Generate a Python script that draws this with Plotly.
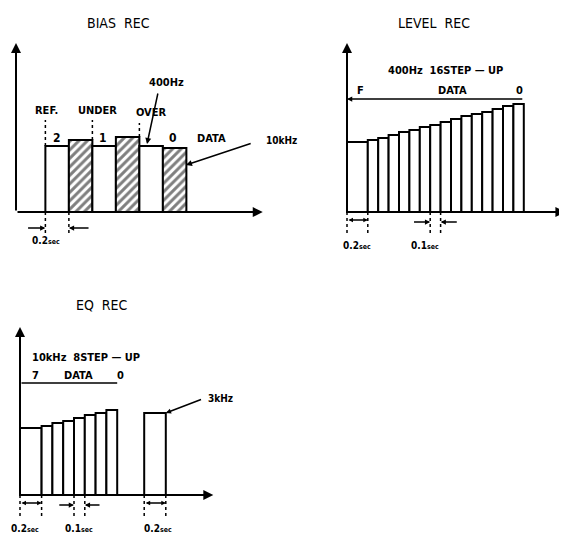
import numpy as np
import plotly.graph_objects as go

W, H = 567, 537
OFF = 8  # page body margin
FW, FH = W - OFF, H - OFF

# BIAS REC : REF / UNDER / OVER, 400Hz (white) + 10kHz (hatched)
bias_left = [0.25, 0.45, 0.65, 0.85, 1.05, 1.25]
bias_width = [0.2, 0.2, 0.2, 0.2, 0.2, 0.2]
bias_level = [66, 72, 66, 75, 66, 64]
bias_hatch = ["", "/", "", "/", "", "/"]

# LEVEL REC : 400Hz 16 step-up
level_width = [0.2] + [0.1] * 15
level_level = [70, 72, 74, 77, 80, 82, 85, 87, 90, 93, 96, 98, 100, 103, 106, 108]

# EQ REC : 10kHz 8 step-up, then 3kHz
eq_width = [0.2] + [0.1] * 7
eq_level = [67, 69, 72, 74, 77, 80, 82, 85]
eq3k_left = [1.15]
eq3k_width = [0.2]
eq3k_level = [82]

FONT = "DejaVu Sans Condensed, Liberation Sans Narrow, Liberation Sans, Arial"

fig = go.Figure()
annots = []


def ax_names(n):
    s = "" if n == 1 else str(n)
    return "x" + s, "y" + s


def panel(n, box, origin, sx, sy=1.0):
    left, top, right, bottom = box
    ox, oy = origin
    s = "" if n == 1 else str(n)
    xa = dict(domain=[(left - OFF) / FW, (right - OFF) / FW],
              range=[(left - ox) / sx, (right - ox) / sx],
              visible=False, fixedrange=True, anchor="y" + s)
    ya = dict(domain=[(H - bottom) / FH, (H - top) / FH],
              range=[(oy - bottom) / sy, (oy - top) / sy],
              visible=False, fixedrange=True, anchor="x" + s)
    fig.layout["xaxis" + s] = xa
    fig.layout["yaxis" + s] = ya


def bars(n, left, width, level, hatch=None):
    xr, yr = ax_names(n)
    fig.add_trace(go.Bar(
        x=left, y=level, width=width, offset=0, xaxis=xr, yaxis=yr,
        marker=dict(color="white", line=dict(color="black", width=2),
                    pattern=dict(shape=hatch if hatch else "", fgcolor="black",
                                 bgcolor="white", size=6, solidity=0.5)),
        showlegend=False, hoverinfo="skip"))


def dotted(n, xs, y0s, y1s):
    xr, yr = ax_names(n)
    px, py = [], []
    for x, a, b in zip(xs, y0s, y1s):
        px += [x, x, None]
        py += [a, b, None]
    fig.add_trace(go.Scatter(x=px, y=py, mode="lines", xaxis=xr, yaxis=yr,
                             line=dict(color="black", width=1.5, dash="dot"),
                             showlegend=False, hoverinfo="skip"))


def txt(n, x, y, s, size=11, bold=True):
    xr, yr = ax_names(n)
    annots.append(dict(x=x, y=y, xref=xr, yref=yr, text="<b>" + s + "</b>" if bold else s,
                       showarrow=False, font=dict(family=FONT, size=size, color="black")))


def sec(n, x, y, num):
    txt(n, x, y, num + "<span style='font-size:7px'>sec</span>", 10)


def arrow(n, x0, y0, x1, y1, both=False, w=1.5, head=2, size=1.0):
    xr, yr = ax_names(n)
    annots.append(dict(x=x1, y=y1, ax=x0, ay=y0, xref=xr, yref=yr, axref=xr, ayref=yr,
                       text="", showarrow=True, arrowhead=head, arrowsize=size, arrowwidth=w,
                       arrowcolor="black", arrowside="end+start" if both else "end",
                       startarrowhead=head, startarrowsize=size))


def line(n, x0, y0, x1, y1, w=1.5):
    arrow(n, x0, y0, x1, y1, w=w, head=0)


# ---------- BIAS REC ----------
panel(1, (8, 8, 290, 265), (16, 212), 117.5)
txt(1, 0.87, 189, "BIAS  REC", 14, bold=False)
arrow(1, 0, 0, 0, 169, w=2)
arrow(1, 0, 0, 2.1, 0, w=2)
bars(1, bias_left, bias_width, bias_level, bias_hatch)
dotted(1, [bias_left[0], bias_left[2], bias_left[4]],
       [bias_level[0], bias_level[1], bias_level[3]], [92, 92, 89])
txt(1, 0.26, 102, "REF.", 11)
txt(1, 0.69, 102, "UNDER", 11)
txt(1, 1.15, 100, "OVER", 11)
txt(1, 1.28, 130, "400Hz", 11)
arrow(1, 1.21, 120, 1.115, 68, w=1.5, size=0.8)
txt(1, 0.35, 74, "2", 12)
txt(1, 0.74, 74, "1", 12)
txt(1, 1.34, 74, "0", 12)
txt(1, 1.66, 74, "DATA", 11)
txt(1, 2.26, 72, "10kHz", 10)
arrow(1, 2.01, 69, 1.447, 47, w=1.5, size=0.8)
dotted(1, [bias_left[0], bias_left[0] + bias_width[0]], [0, 0], [-22, -22])
arrow(1, 0.09, -16, bias_left[0], -16, size=0.7)
arrow(1, 0.63, -16, bias_left[0] + bias_width[0], -16, size=0.7)
sec(1, 0.255, -28, "0.2")

# ---------- LEVEL REC ----------
panel(2, (290, 8, 567, 265), (347, 212), 104)
lv_left = list(np.cumsum([0] + level_width[:-1]))
lv_end = lv_left[-1] + level_width[-1]
txt(2, 0.84, 189, "LEVEL  REC", 14, bold=False)
arrow(2, 0, 0, 0, 169, w=2)
arrow(2, 0, 0, 2.1, 0, w=2)
bars(2, lv_left, level_width, level_level)
txt(2, 0.95, 142, "400Hz  16STEP — UP", 11)
arrow(2, lv_end, 113, 0, 113, w=1.5, size=0.7)
txt(2, 0.125, 122, "F", 11)
txt(2, 1.01, 122, "DATA", 11)
txt(2, 1.66, 122, "0", 11)
dotted(2, [0, level_width[0]], [0, 0], [-22, -22])
arrow(2, 0, -8, level_width[0], -8, both=True, size=0.6)
sec(2, 0.096, -33, "0.2")
dotted(2, [lv_left[7], lv_left[8]], [0, 0], [-22, -22])
arrow(2, lv_left[7] - 0.17, -10, lv_left[7], -10, size=0.7)
arrow(2, lv_left[8] + 0.17, -10, lv_left[8], -10, size=0.7)
sec(2, 0.75, -33, "0.1")

# ---------- EQ REC ----------
panel(3, (8, 280, 290, 537), (20, 495), 108)
eq_left = list(np.cumsum([0] + eq_width[:-1]))
eq_end = eq_left[-1] + eq_width[-1]
txt(3, 0.76, 190, "EQ  REC", 14, bold=False)
arrow(3, 0, 0, 0, 168, w=2)
arrow(3, 0, 0, 1.79, 0, w=2)
bars(3, eq_left, eq_width, eq_level)
bars(3, eq3k_left, eq3k_width, eq3k_level)
txt(3, 0.61, 138, "10kHz  8STEP — UP", 11)
line(3, 0, 112, eq_end, 112)
txt(3, 0.14, 120, "7", 11)
txt(3, 0.54, 120, "DATA", 11)
txt(3, 0.93, 120, "0", 11)
txt(3, 1.86, 97, "3kHz", 10)
arrow(3, 1.69, 96, eq3k_left[0] + eq3k_width[0], eq3k_level[0], size=0.7)
dotted(3, [0, eq_width[0]], [0, 0], [-22, -22])
arrow(3, 0, -8, eq_width[0], -8, both=True, size=0.6)
sec(3, 0.05, -33, "0.2")
dotted(3, [eq_left[4], eq_left[5]], [0, 0], [-22, -22])
arrow(3, eq_left[4] - 0.15, -10, eq_left[4], -10, size=0.7)
arrow(3, eq_left[5] + 0.15, -10, eq_left[5], -10, size=0.7)
sec(3, 0.55, -33, "0.1")
dotted(3, [eq3k_left[0], eq3k_left[0] + eq3k_width[0]], [0, 0], [-22, -22])
arrow(3, eq3k_left[0], -8, eq3k_left[0] + eq3k_width[0], -8, both=True, size=0.6)
sec(3, 1.28, -33, "0.2")

fig.update_layout(width=FW, height=FH, margin=dict(l=0, r=0, t=0, b=0),
                  paper_bgcolor="white", plot_bgcolor="white",
                  barmode="overlay", showlegend=False, annotations=annots)

fig.write_html("out.html")
